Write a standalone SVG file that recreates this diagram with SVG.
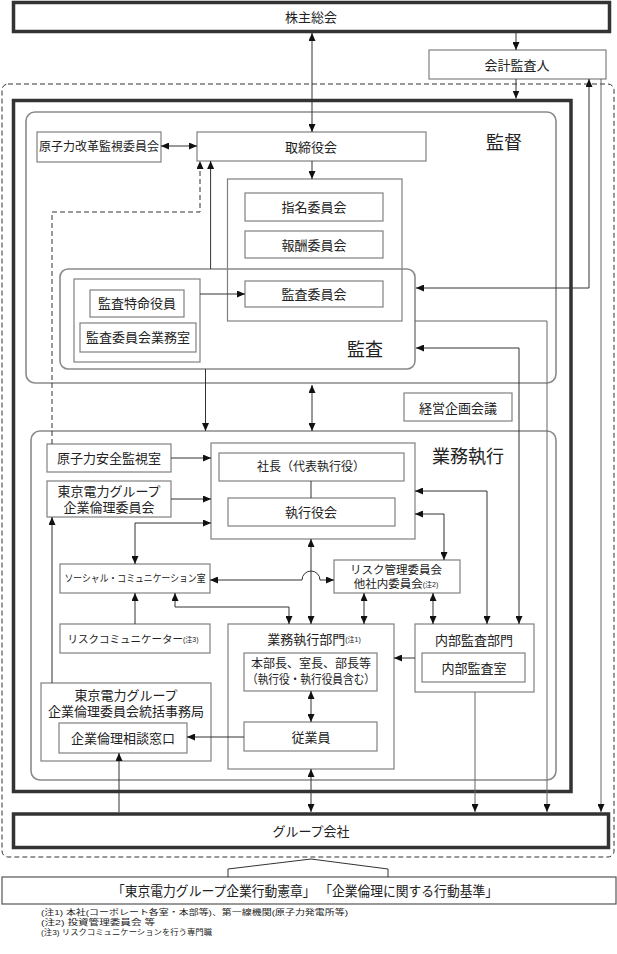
<svg xmlns="http://www.w3.org/2000/svg" width="617" height="954" viewBox="0 0 617 954">
<style>
.box{fill:#fff;stroke:#808080;stroke-width:1.2}
.thick{fill:#fff;stroke:#333;stroke-width:3.5}
.thickn{fill:none;stroke:#333;stroke-width:3.5}
.round{fill:none;stroke:#8a8a8a;stroke-width:1.6}
.dash{fill:none;stroke:#333;stroke-width:1;stroke-dasharray:5 3}
.t{font-family:"Liberation Sans","Noto Sans CJK JP",sans-serif;font-size:13px;fill:#222;text-anchor:middle;dominant-baseline:central}
.t tspan{dominant-baseline:central}
.big{font-size:18px}
.sm{font-size:7px}
.note{font-family:"Liberation Sans","Noto Sans CJK JP",sans-serif;font-size:7.5px;fill:#222}
.ln{fill:none;stroke:#333;stroke-width:1}
.lg{fill:none;stroke:#666;stroke-width:1}
.a2{marker-start:url(#ah);marker-end:url(#ah)}
.a1{marker-end:url(#ah)}
</style>
<defs>
<marker id="ah" viewBox="0 0 8 7" refX="8" refY="3.5" markerWidth="8" markerHeight="7" markerUnits="userSpaceOnUse" orient="auto-start-reverse"><path d="M0,0 L8,3.5 L0,7 z" fill="#111"/></marker>
</defs>
<rect width="617" height="954" fill="#fff"/>

<g id="outer-dashed"><rect class="dash" x="2" y="84" width="612" height="773" rx="6"/></g>
<g id="main-frame"><rect class="thickn" x="13.5" y="100.5" width="557.5" height="691"/></g>

<g id="kantoku"><rect class="round" x="26" y="112" width="530" height="271" rx="9"/><text class="t big" x="504" y="143">監督</text></g>
<g id="gyomushikko"><rect class="round" x="31" y="431" width="525" height="349" rx="9"/><text class="t big" x="468" y="457">業務執行</text></g>

<g id="kabunushi"><rect class="thick" x="13.5" y="2.5" width="596" height="29"/><text class="t" x="311" y="17">株主総会</text></g>
<g id="kaikei"><rect class="box" x="429" y="50" width="177" height="29"/><text class="t" x="517" y="65">会計監査人</text></g>
<g id="genshiryoku-kaikaku"><rect class="box" x="37" y="132" width="124" height="30"/><text class="t" x="99" y="147" style="font-size:12px">原子力改革監視委員会</text></g>
<g id="torishimariyaku"><rect class="box" x="197" y="132" width="229" height="29"/><text class="t" x="311" y="147">取締役会</text></g>
<g id="iinkai-group"><rect class="box" x="227.5" y="179" width="174.5" height="142"/></g>
<g id="shimei"><rect class="box" x="245" y="193" width="138" height="28"/><text class="t" x="314" y="207">指名委員会</text></g>
<g id="hoshu"><rect class="box" x="245" y="231" width="138" height="27"/><text class="t" x="314" y="245">報酬委員会</text></g>
<g id="kansa"><rect class="round" x="60" y="269" width="355" height="100" rx="8"/><text class="t big" x="365" y="350">監査</text></g>
<g id="kansa-iinkai"><rect class="box" x="245" y="281" width="138" height="26"/><text class="t" x="314" y="294">監査委員会</text></g>
<g id="tokumei-group"><rect class="box" x="74" y="279" width="126" height="83"/></g>
<g id="tokumei"><rect class="box" x="90" y="290" width="94" height="27"/><text class="t" x="137" y="303">監査特命役員</text></g>
<g id="kansa-jimu"><rect class="box" x="80" y="323" width="116" height="29"/><text class="t" x="138" y="337">監査委員会業務室</text></g>
<g id="keiei"><rect class="box" x="404" y="393" width="108" height="28"/><text class="t" x="458" y="408">経営企画会議</text></g>
<g id="genshiryoku-anzen"><rect class="box" x="47" y="444" width="124" height="28"/><text class="t" x="109" y="458">原子力安全監視室</text></g>
<g id="rinri-iinkai"><rect class="box" x="47" y="481" width="124" height="36"/><text class="t"><tspan x="109" y="491">東京電力グループ</tspan><tspan x="109" y="507">企業倫理委員会</tspan></text></g>
<g id="shacho-group"><rect class="box" x="211" y="443" width="204" height="96"/></g>
<g id="shacho"><rect class="box" x="219" y="453" width="185" height="28"/><text class="t" x="311" y="467" style="font-size:12px">社長（代表執行役）</text></g>
<g id="shikkoyakukai"><rect class="box" x="228" y="498" width="167" height="28"/><text class="t" x="311" y="512">執行役会</text></g>
<g id="social"><rect class="box" x="60" y="564" width="150" height="29"/><text class="t" x="135" y="578" style="font-size:10px" textLength="141" lengthAdjust="spacingAndGlyphs">ソーシャル・コミュニケーション室</text></g>
<g id="risk-kanri"><rect class="box" x="334" y="560" width="126" height="33"/><text class="t" style="font-size:11.5px"><tspan x="396" y="570">リスク管理委員会</tspan><tspan x="396" y="584">他社内委員会<tspan class="sm">(注2)</tspan></tspan></text></g>
<g id="risk-comm"><rect class="box" x="60" y="624" width="150" height="29"/><text class="t" x="133" y="639" style="font-size:10.5px">リスクコミュニケーター<tspan class="sm">(注3)</tspan></text></g>
<g id="gyomu-bumon"><rect class="box" x="228" y="624" width="166" height="145"/><text class="t" x="314" y="639" style="font-size:13px">業務執行部門<tspan class="sm">(注1)</tspan></text></g>
<g id="honbucho"><rect class="box" x="244" y="653" width="133" height="38"/><text class="t" style="font-size:12px"><tspan x="311" y="664">本部長、室長、部長等</tspan><tspan x="311" y="680" textLength="128" lengthAdjust="spacingAndGlyphs">（執行役・執行役員含む）</tspan></text></g>
<g id="jugyoin"><rect class="box" x="244" y="722" width="133" height="29"/><text class="t" x="311" y="737">従業員</text></g>
<g id="naibu-bumon"><rect class="box" x="415" y="624" width="119" height="68"/><text class="t" x="474" y="640">内部監査部門</text></g>
<g id="naibu-shitsu"><rect class="box" x="422" y="653" width="103" height="29"/><text class="t" x="474" y="668">内部監査室</text></g>
<g id="tokatsu"><rect class="box" x="41" y="683" width="170" height="78"/><text class="t"><tspan x="126" y="695">東京電力グループ</tspan><tspan x="126" y="711" textLength="156" lengthAdjust="spacingAndGlyphs">企業倫理委員会統括事務局</tspan></text></g>
<g id="sodan"><rect class="box" x="59" y="723" width="128" height="30"/><text class="t" x="123" y="738">企業倫理相談窓口</text></g>
<g id="group-kaisha"><rect class="thick" x="13.5" y="814" width="595" height="33.5"/><text class="t" x="311" y="831">グループ会社</text></g>
<g id="kodo-kensho"><rect class="box" x="2" y="877" width="614" height="27" style="stroke:#555"/><text class="t" x="305" y="891" style="font-size:13.5px" textLength="386" lengthAdjust="spacingAndGlyphs">「東京電力グループ企業行動憲章」 「企業倫理に関する行動基準」</text></g>

<g id="connectors">
<path class="ln a2" d="M312,33 V132"/>
<path class="ln a1" d="M516,33 V50"/>
<path class="ln a1" d="M516,79 V98.5"/>
<path class="ln a2" d="M161,146 H197"/>
<path class="ln a1" d="M312,161 V179"/>
<path class="dash a1" d="M52,444 V212 H200 V161"/>
<path class="ln a1" d="M210.6,269 V161"/>
<path class="ln a1" d="M200,294 H245"/>
<path class="ln a2" d="M416,288 H589 V79"/>
<path class="lg a1" d="M601,79 V812"/>
<path class="lg a1" d="M415,321 H547 V812"/>
<path class="ln a2" d="M416,348 H519 V624"/>
<path class="ln a1" d="M205.5,369 V431"/>
<path class="ln a2" d="M312,385 V431"/>
<path class="ln a1" d="M171,458 H211"/>
<path class="ln a1" d="M171,499 H211"/>
<path class="ln a2" d="M211,523 H135 V564"/>
<path class="ln" d="M311,481 V498"/>
<path class="ln a2" d="M311,539 V624"/>
<path class="ln a2" d="M210,580 H302 A9,9 0 0 1 320,580 H334"/>
<path class="ln a2" d="M415,491 H487 V624"/>
<path class="ln a2" d="M415,514 H444 V560"/>
<path class="ln a2" d="M364,593 V624"/>
<path class="ln a2" d="M433,593 V624"/>
<path class="ln a1" d="M135,624 V593"/>
<path class="ln a2" d="M175,593 V607 H289 V624"/>
<path class="ln a1" d="M52,683 V517"/>
<path class="ln a1" d="M415,658 H394"/>
<path class="ln a2" d="M311,691 V722"/>
<path class="ln a1" d="M244,737 H187"/>
<path class="ln a1" d="M119,812 V753"/>
<path class="ln a2" d="M311,769 V812"/>
<path class="lg a1" d="M475,692 V812"/>
<path class="ln" d="M228,877 V869 L311,859 L388,869 V877"/>
</g>

<g id="notes">
<text class="note" x="41" y="915" textLength="307" lengthAdjust="spacingAndGlyphs">(注1) 本社(コーポレート各室・本部等)、第一線機関(原子力発電所等)</text>
<text class="note" x="41" y="925" textLength="114" lengthAdjust="spacingAndGlyphs">(注2) 投資管理委員会 等</text>
<text class="note" x="41" y="935" textLength="171" lengthAdjust="spacingAndGlyphs">(注3) リスクコミュニケーションを行う専門職</text>
</g>
</svg>
